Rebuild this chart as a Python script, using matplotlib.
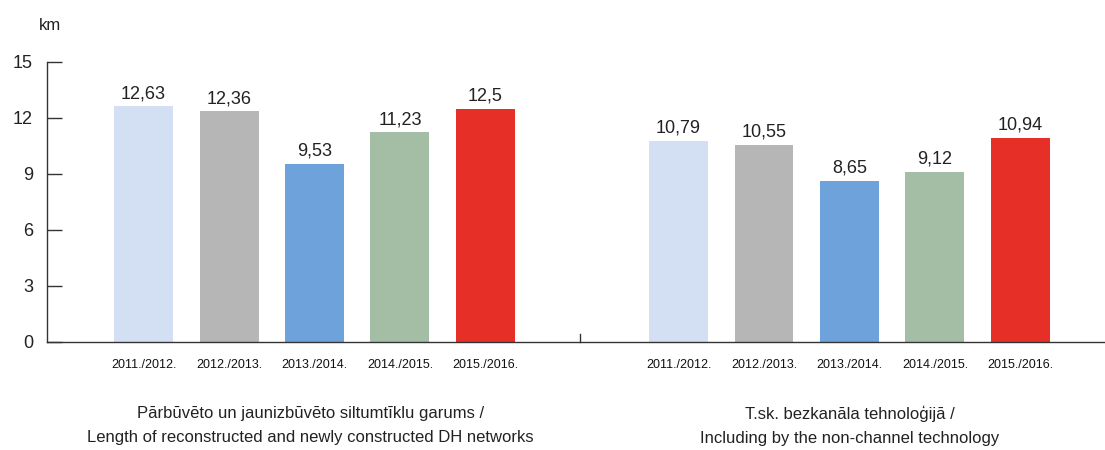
import numpy as np
import matplotlib
matplotlib.use('Agg')
import matplotlib.pyplot as plt

plt.rcParams['font.family'] = ['Liberation Sans', 'DejaVu Sans']

seasons = ['2011./2012.', '2012./2013.', '2013./2014.', '2014./2015.', '2015./2016.']
total_km = [12.63, 12.36, 9.53, 11.23, 12.5]
non_channel_km = [10.79, 10.55, 8.65, 9.12, 10.94]
group_titles = ['Pārbūvēto un jaunizbūvēto siltumtīklu garums /\nLength of reconstructed and newly constructed DH networks',
                'T.sk. bezkanāla tehnoloģijā /\nIncluding by the non-channel technology']
colors = ['#D3DFF2', '#B6B6B6', '#6DA3DA', '#A4BEA6', '#E62F27']
yticks = [0, 3, 6, 9, 12, 15]


def fmt(v):
    return ('%g' % v).replace('.', ',')


fig = plt.figure(figsize=(11.05, 4.5), dpi=100)
ax = fig.add_axes([47 / 1105, 108 / 450, 1 - 47 / 1105, 280 / 450])

gap = 6.26
x1 = np.arange(len(seasons))
x2 = x1 + gap
w = 0.69
for xs, vals in [(x1, total_km), (x2, non_channel_km)]:
    bars = ax.bar(xs, vals, width=w, color=colors, zorder=2)
    for b, v in zip(bars, vals):
        ax.text(b.get_x() + b.get_width() / 2, v + 0.22, fmt(v),
                ha='center', va='bottom', fontsize=13, color='#222222')

ax.set_xlim(-1.13, 11.25)
ax.set_ylim(0, 15)
ax.set_yticks(yticks)
ax.set_yticklabels([str(t) for t in yticks], fontsize=13, color='#222222')
ax.tick_params(axis='y', direction='in', length=11, width=1, pad=10, color='#333333')
ax.set_xticks(list(x1) + list(x2))
ax.set_xticklabels(seasons + seasons, fontsize=9, color='#111111')
ax.tick_params(axis='x', length=0, pad=12)

for s in ['top', 'right']:
    ax.spines[s].set_visible(False)
for s in ['left', 'bottom']:
    ax.spines[s].set_color('#333333')
    ax.spines[s].set_linewidth(1.0)

# small separator between groups
sep = (x1[-1] + x2[0]) / 2 - 0.02
ax.plot([sep, sep], [0, 0.45], color='#333333', lw=1, clip_on=False)

offsets = [-0.05, 0.0]
for xs, title, off in zip([x1, x2], group_titles, offsets):
    ax.text(xs.mean() + off, -3.42, title, ha='center', va='top', fontsize=12,
            color='#222222', linespacing=1.75)

fig.text(50 / 1105, 1 - 25 / 450, 'km', ha='center', va='center', fontsize=12, color='#222222')

fig.savefig('out.png', dpi=100)
